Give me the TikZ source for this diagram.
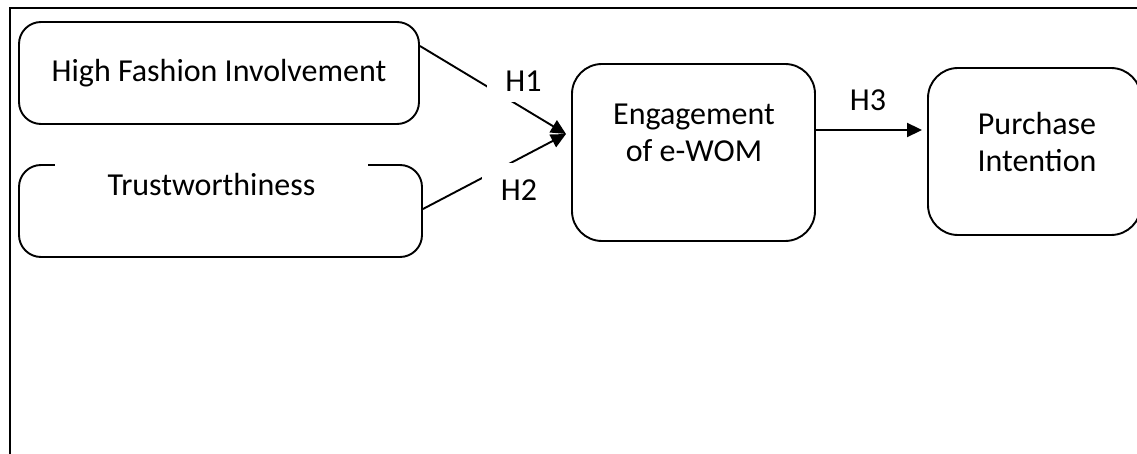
\documentclass[tikz,border=0pt]{standalone}
\usepackage{fontspec}
\setmainfont{Carlito}
\usetikzlibrary{arrows.meta,
                positioning}

\begin{document}
\begin{tikzpicture}[x=1pt,y=-1pt,
  box/.style={draw,line width=1.9pt,rounded corners=22pt,inner sep=0pt},
  txt/.style={align=center,inner sep=0pt,font=\fontsize{32}{37}\selectfont},
  hyp/.style={fill=white,inner sep=0pt,font=\fontsize{32}{37}\selectfont},
  link/.style={line width=1.9pt,-{Triangle[length=15pt,width=14pt]}}]
\useasboundingbox (0,0) rectangle (1137,454);
% frame
\draw[line width=2.6pt] (10,454) -- (10,8) -- (1137,8);

% boxes
\node[box,minimum width=400pt,minimum height=102pt] (hfi) at (219,73) {};
\node[box,minimum width=403pt,minimum height=92pt] (trust) at (220.5,211) {};
\node[box,rounded corners=30pt,minimum width=243pt,minimum height=177pt] (eng) at (693.5,152.5) {};
\node[box,rounded corners=30pt,minimum width=213pt,minimum height=167pt] (pi) at (1034.5,151.5) {};

\node[txt] (hfitxt) at (hfi.center) {High Fashion Involvement};
\node[txt] (engtxt) at (694,133) {Engagement\\of e-WOM};
\node[txt] (pitxt) at (1037,142) {Purchase\\Intention};

% links
\coordinate (in) at (566,134);
\draw[link] ([yshift=27pt]hfi.east) -- (in);
\draw[link] ([yshift=2pt]trust.east) -- (in);
\draw[link] ([yshift=22.5pt]eng.east) coordinate (e3) -- ([xshift=-5pt]e3 -| pi.west);

% labels
\node[hyp,minimum width=313pt,minimum height=50pt] (trusttxt) at (211.5,185) {Trustworthiness};
\node[hyp,minimum width=73pt,minimum height=42pt] (h1) at (523.5,81) {H1};
\node[hyp,minimum width=74pt,minimum height=54pt] (h2) at (519,190) {H2};
\node[txt] (h3) at (868,100) {H3};
\end{tikzpicture}
\end{document}
